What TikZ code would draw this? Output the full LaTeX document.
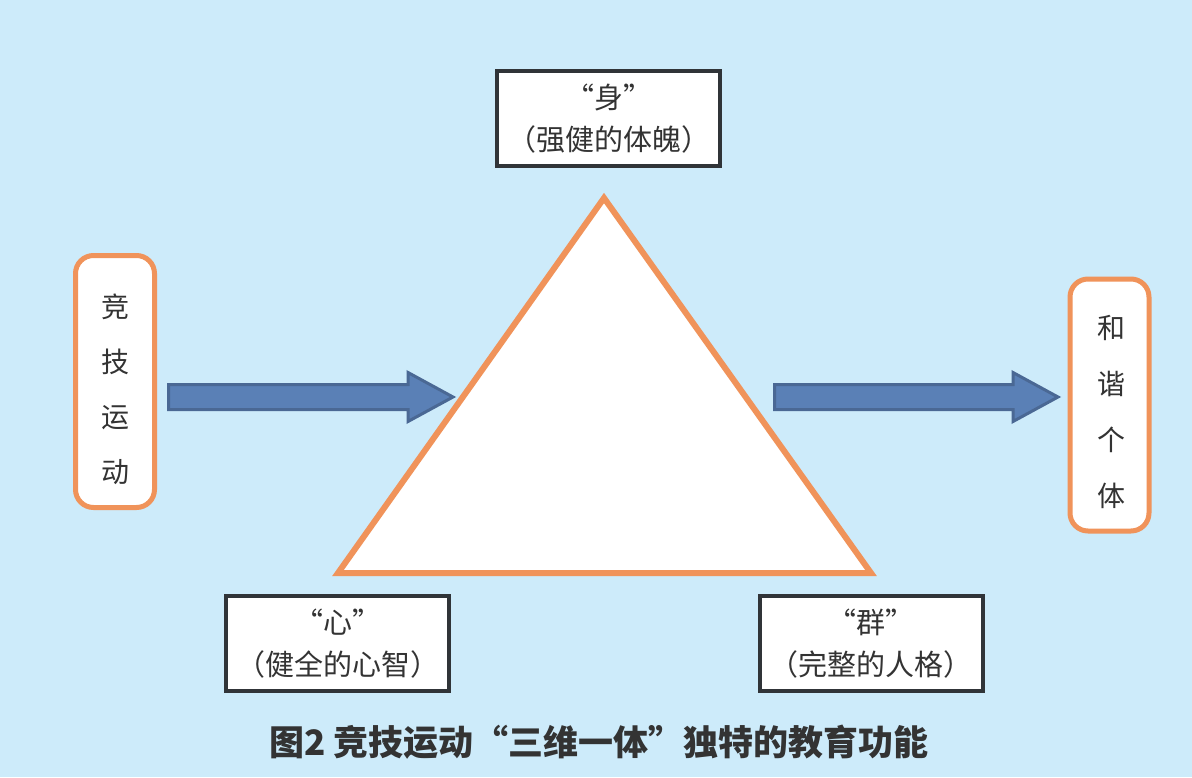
\documentclass[tikz,border=0pt]{standalone}
\usepackage{fontspec}
\setmainfont{Noto Sans CJK SC}
\usepackage{tikz}
\usetikzlibrary{positioning, calc}
\definecolor{skyblue}{HTML}{CDEBFA}
\definecolor{peach}{HTML}{F0935A}
\definecolor{boxgray}{HTML}{303438}
\definecolor{txtgray}{HTML}{333333}
\definecolor{arrowfill}{HTML}{5A80B6}
\definecolor{arrowline}{HTML}{4A6894}
\tikzset{
  labelbox/.style={draw=boxgray, line width=4pt, fill=white, minimum width=223pt,
    minimum height=95pt, align=center, text=txtgray,
    font=\fontsize{29}{42}\selectfont},
  sidebox/.style={draw=peach, line width=5pt, fill=white, rounded corners=18pt,
    minimum width=79pt, minimum height=252pt},
  sidetext/.style={align=center, text=txtgray, font=\fontsize{28}{55}\selectfont},
  blockarrow/.style={draw=arrowline, fill=arrowfill, line width=3pt},
}

\begin{document}
\begin{tikzpicture}[x=1pt, y=-1pt]
    \fill [skyblue] (0,0) rectangle (1192,777);
    \useasboundingbox (0,0) rectangle (1192,777);

    % triangle
    \coordinate (top) at (604,198);
    \coordinate (bl) at (338,573);
    \coordinate (br) at (871,573);
    \draw [peach, fill=white, line width=6pt] (top) -- (bl) -- (br) -- cycle;

    % boxes
    \node [labelbox] (body) at (608.5,118.5) {“身”\\（强健的体魄）};
    \node [labelbox] (mind) at (337.5,643.5) {“心”\\（健全的心智）};
    \node [labelbox] (group) at (871,643.5) {“群”\\（完整的人格）};

    \node [sidebox] (sport) at (115,381.5) {};
    \node [sidetext] at (115,389) {竞\\技\\运\\动};
    \node [sidebox] (person) at (1109.5,405) {};
    \node [sidetext, font=\fontsize{28}{56}\selectfont] at (1111,412) {和\\谐\\个\\体};

    % arrows
    \coordinate (inS) at (168.5,397);
    \coordinate (inT) at (453,397);
    \draw [blockarrow] (inS) ++(0,-12.5) -- ++(239.5,0) -- ++(0,-12)
      -- (inT) -- ++(-45,24.5) -- ++(0,-12) -- ++(-239.5,0) -- cycle;

    \coordinate (outS) at (774.5,397);
    \coordinate (outT) at (1058,397);
    \draw [blockarrow] (outS) ++(0,-12.5) -- ++(238.5,0) -- ++(0,-12)
      -- (outT) -- ++(-45,24.5) -- ++(0,-12) -- ++(-238.5,0) -- cycle;

    \node [text=txtgray, font=\fontsize{35}{35}\selectfont\bfseries] (caption)
      at (599,742) {图2 竞技运动“三维一体”独特的教育功能};
  \end{tikzpicture}
\end{document}
